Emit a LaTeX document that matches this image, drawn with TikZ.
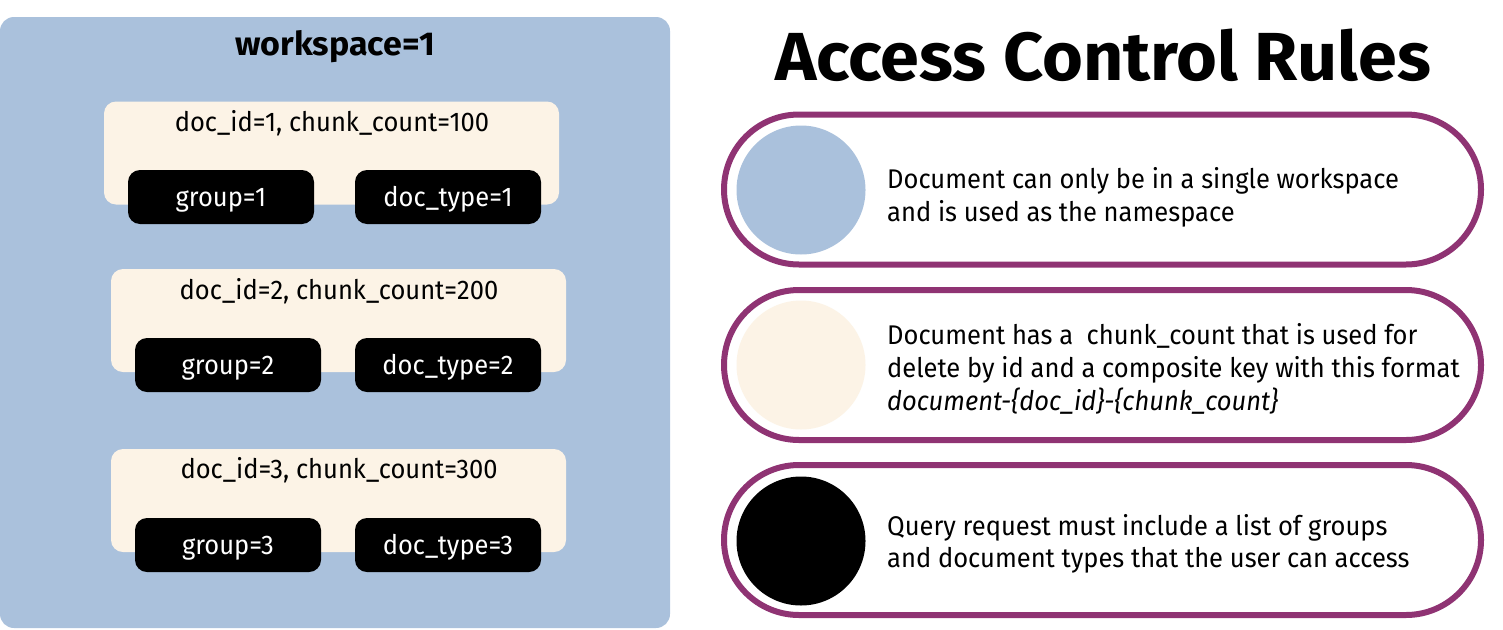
\documentclass[tikz,border=0pt]{standalone}
\usepackage{fontspec}
\setmainfont{Fira Sans}[FakeStretch=0.945, BoldFeatures={FakeStretch=1.03}]
\definecolor{wsblue}{HTML}{AAC1DC}
\definecolor{doccream}{HTML}{FCF3E6}
\definecolor{rulepurple}{HTML}{8F3373}
\begin{document}
\begin{tikzpicture}[x=1pt,y=-1pt,
  panel/.style={fill=wsblue, rounded corners=14pt, inner sep=0pt},
  doccard/.style={fill=doccream, rounded corners=12pt, minimum width=455pt, minimum height=103pt, inner sep=0pt},
  tagpill/.style={fill=black, text=white, rounded corners=12pt, minimum width=186pt, minimum height=54pt,
                  inner sep=0pt, text height=19pt, text depth=0pt, font=\fontsize{27}{32}\selectfont},
  doclabel/.style={anchor=base, inner sep=0pt, font=\fontsize{27}{32}\selectfont},
  rulebox/.style={draw=rulepurple, line width=6pt, fill=white, rounded corners=75pt,
                  minimum width=757pt, minimum height=150pt, inner sep=0pt},
  dot/.style={circle, minimum size=129pt, inner sep=0pt},
  ruletext/.style={anchor=base west, inner sep=0pt, font=\fontsize{27}{32}\selectfont}]
\useasboundingbox (0,0) rectangle (1503,629);

% workspace panel
\node[panel, minimum width=670pt, minimum height=611pt] (ws) at (335,322.5) {};
\node[anchor=base, inner sep=0pt, font=\fontsize{33}{40}\selectfont\bfseries] (wstitle) at (335,55) {workspace=1};

% documents
\node[doccard] (doc1) at (331.5,153) {};
\node[doclabel] (doc1t) at (332,131) {doc\_id=1, chunk\_count=100};
\node[tagpill] (grp1) at (221,197) {group=1};
\node[tagpill] (typ1) at (448,197) {doc\_type=1};

\node[doccard] (doc2) at (338.5,320.5) {};
\node[doclabel] (doc2t) at (339,299) {doc\_id=2, chunk\_count=200};
\node[tagpill] (grp2) at (228,365) {group=2};
\node[tagpill] (typ2) at (448,365) {doc\_type=2};

\node[doccard] (doc3) at (338.5,500.5) {};
\node[doclabel] (doc3t) at (339,478) {doc\_id=3, chunk\_count=300};
\node[tagpill] (grp3) at (228,545) {group=3};
\node[tagpill] (typ3) at (448,545) {doc\_type=3};

% rules
\node[anchor=base, inner sep=0pt, font=\fontsize{68}{80}\selectfont\bfseries] (title) at (1103,80) {Access Control Rules};

\node[rulebox] (rule1) at (1102.5,189.5) {};
\node[dot, fill=wsblue] (dot1) at (801,190) {};
\node[ruletext] (r1a) at (887,188) {Document can only be in a single workspace};
\node[ruletext] (r1b) at (887,221) {and is used as the namespace};

\node[rulebox] (rule2) at (1102.5,365) {};
\node[dot, fill=doccream] (dot2) at (801,365) {};
\node[ruletext] (r2a) at (887,344) {Document has a\ \ chunk\_count that is used for};
\node[ruletext] (r2b) at (887,377) {delete by id and a composite key with this format};
\node[ruletext, font=\fontsize{27}{32}\selectfont\itshape] (r2c) at (887,410) {document-\{doc\_id\}-\{chunk\_count\}};

\node[rulebox] (rule3) at (1102.5,540) {};
\node[dot, fill=black] (dot3) at (801,541) {};
\node[ruletext] (r3a) at (887,535) {Query request must include a list of groups};
\node[ruletext] (r3b) at (887,567) {and document types that the user can access};
\end{tikzpicture}
\end{document}
